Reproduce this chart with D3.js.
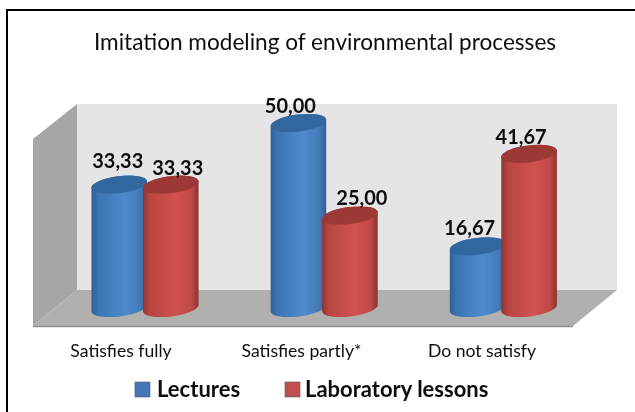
<!DOCTYPE html>
<html>
<head>
<meta charset="utf-8">
<script src="https://cdn.jsdelivr.net/npm/d3@7"></script>
<style>
html,body{margin:0;padding:0;background:#fff;overflow:hidden}
svg{display:block}
text{font-family:Lato,"Open Sans",sans-serif;fill:#111}
</style>
</head>
<body>
<svg id="c" width="635" height="412"></svg>
<script>
const titleText = "Imitation modeling of environmental processes";
const categories = ["Satisfies fully", "Satisfies partly*", "Do not satisfy"];
const seriesNames = ["Lectures", "Laboratory lessons"];
const lectures = [33.33, 50.00, 16.67];
const laboratory = [33.33, 25.00, 41.67];
const labelNudgeX = [[-1.5, -8, -8], [7, 12, -8]];
const labelNudgeY = [[-17, -10, -11], [-9.5, -10.5, -10]];

const svg = d3.select("#c");
const fmt = v => v.toFixed(2).replace(".", ",");
const defs = svg.append("defs");

function grad(id, stops) {
  const g = defs.append("linearGradient").attr("id", id).attr("x1", 0).attr("x2", 1).attr("y1", 0).attr("y2", 0);
  stops.forEach(s => g.append("stop").attr("offset", s[0]).attr("stop-color", s[1]));
}
grad("gBlue", [[0, "#2f6199"], [0.12, "#3b74b2"], [0.6, "#4f8bcd"], [0.88, "#4379b8"], [1, "#2f5e95"]]);
grad("gRed", [[0, "#8f3431"], [0.12, "#b94541"], [0.6, "#d05350"], [0.88, "#bf4845"], [1, "#8a312e"]]);
defs.append("filter").attr("id", "soft").append("feGaussianBlur").attr("stdDeviation", 0.6);
defs.append("filter").attr("id", "softT").append("feGaussianBlur").attr("stdDeviation", 0.3);

// frame
svg.append("path").attr("d", "M7,412V10H635").attr("fill", "none").attr("stroke", "#000").attr("stroke-width", 2);

// title
svg.append("text").attr("x", 325).attr("y", 50).attr("text-anchor", "middle")
  .attr("font-size", 22.6).attr("filter", "url(#softT)").text(titleText);

// chart box
const y = d3.scaleLinear().domain([0, 50]).range([308, 123]);
const x0 = d3.scaleBand().domain(categories).range([55.5, 593]);
const x1 = d3.scaleBand().domain(seriesNames).range([0, 103]).paddingInner(0).paddingOuter(0);
const groupOffset = 38;

const box = svg.append("g").attr("filter", "url(#softT)");
// back wall, side wall, floor
box.append("polygon").attr("points", "77,104 617,104 617,290 77,290").attr("fill", "#e5e5e5");
box.append("polygon").attr("points", "33,139 77,104 77,290 33,326").attr("fill", "#a6a6a6");
box.append("polygon").attr("points", "77,290 617,290 573,326 33,326").attr("fill", "#b0b0af");
box.append("line").attr("x1", 33).attr("x2", 573).attr("y1", 326.5).attr("y2", 326.5).attr("stroke", "#8f8f8f").attr("stroke-width", 1.5);

// cylinders
const rx = 28, ry = 8.5, tilt = 7;
const dx = rx * Math.cos(tilt * Math.PI / 180), dy = rx * Math.sin(tilt * Math.PI / 180);
const series = [
  {name: seriesNames[0], vals: lectures, body: "url(#gBlue)", top: "#33669f", swatch: "#4677b8", si: 0},
  {name: seriesNames[1], vals: laboratory, body: "url(#gRed)", top: "#9c3836", swatch: "#c0504d", si: 1}
];
const barsG = svg.append("g").attr("filter", "url(#soft)");
const lab = svg.append("g").attr("filter", "url(#softT)");
series.forEach(s => {
  s.vals.forEach((v, i) => {
    const cx = x0(categories[i]) + groupOffset + x1(s.name) + x1.bandwidth() / 2;
    const yt = y(v), yb = y(0);
    const arc = `A${rx},${ry} ${-tilt} 0 0 `;
    barsG.append("path")
      .attr("d", `M${cx - dx},${yt + dy}L${cx - dx},${yb + dy}${arc}${cx + dx},${yb - dy}L${cx + dx},${yt - dy}${arc}${cx - dx},${yt + dy}Z`)
      .attr("fill", s.body);
    barsG.append("ellipse")
      .attr("cx", cx).attr("cy", yt).attr("rx", rx).attr("ry", ry)
      .attr("transform", `rotate(${-tilt} ${cx} ${yt})`)
      .attr("fill", s.top);
    lab.append("text")
      .attr("x", cx + labelNudgeX[s.si][i]).attr("y", yt + labelNudgeY[s.si][i])
      .attr("text-anchor", "middle").attr("font-size", 20).attr("font-weight", 700)
      .text(fmt(v));
  });
});

// category axis
const axisScale = d3.scaleBand().domain(categories).range([30.75, 572.25]);
const ax = svg.append("g").attr("transform", "translate(0,340)").attr("filter", "url(#softT)")
  .call(d3.axisBottom(axisScale).tickSize(0).tickPadding(4));
ax.select(".domain").remove();
ax.selectAll("text").attr("font-size", 17.6).attr("font-family", "Lato").attr("fill", "#222");

// legend
const legendX = [135, 285], legendTextX = [157, 305];
const leg = svg.append("g").attr("filter", "url(#softT)");
series.forEach((s, i) => {
  leg.append("rect").attr("x", legendX[i]).attr("y", 382).attr("width", 15).attr("height", 15)
    .attr("fill", s.swatch).attr("stroke", "#555").attr("stroke-width", 0.6);
  leg.append("text").attr("x", legendTextX[i]).attr("y", 397)
    .attr("font-size", 22).attr("font-weight", 700).text(s.name);
});
</script>
</body>
</html>
